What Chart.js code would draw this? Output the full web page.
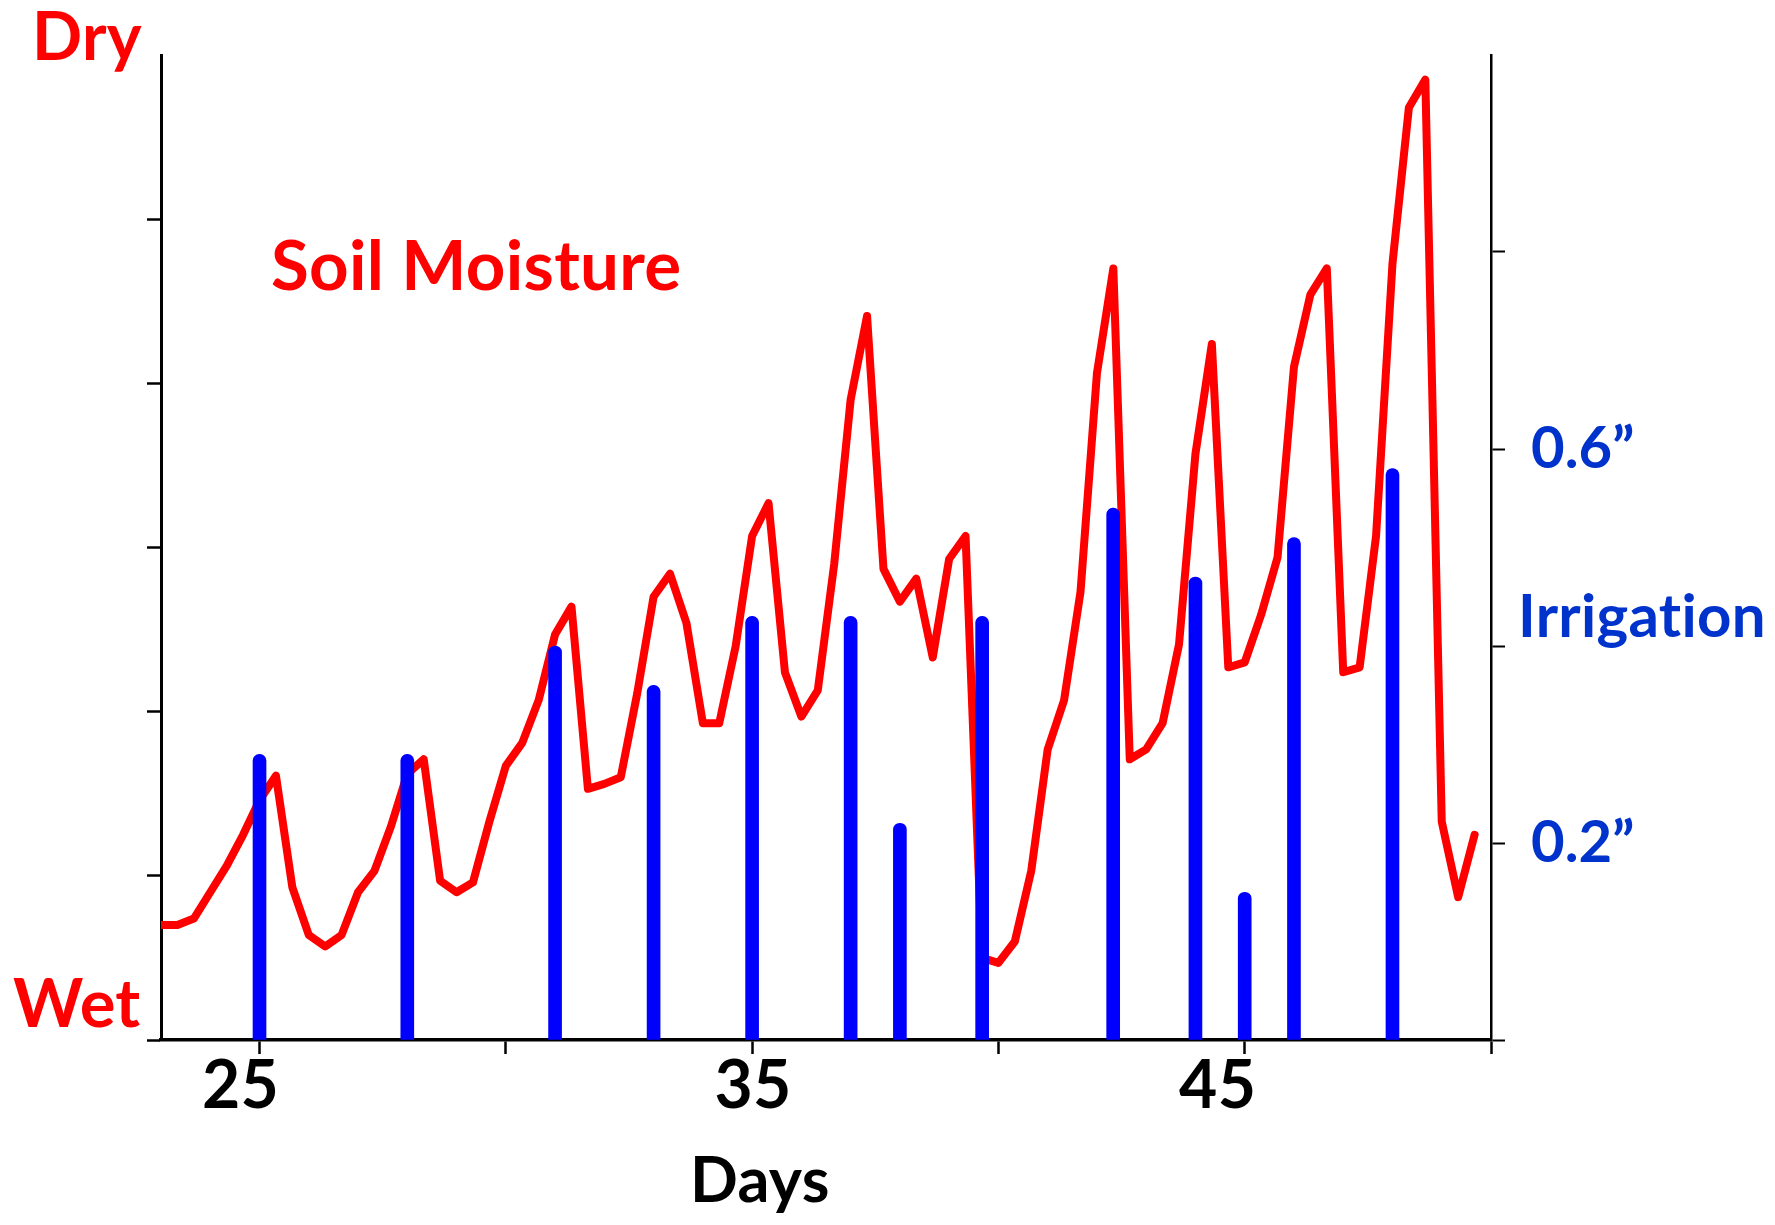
<!DOCTYPE html>
<html>
<head>
<meta charset="utf-8">
<title>Soil Moisture and Irrigation</title>
<script src="https://cdn.jsdelivr.net/npm/chart.js@4.4.0/dist/chart.umd.min.js"></script>
<style>
  html, body { margin: 0; padding: 0; background: #fff; }
  #wrap { width: 1775px; height: 1225px; }
</style>
</head>
<body>
<div id="wrap"><canvas id="soilChart" width="1775" height="1225"></canvas></div>
<script>
// soil moisture readings, one every 8 hours starting on day 23 (left axis, 0 = wet)
const startDay = 23;
const stepDays = 1 / 3;
const moisture = [
  0.70, 0.70, 0.74, 0.90, 1.06, 1.25, 1.46, 1.61, 0.93, 0.64,
  0.57, 0.64, 0.90, 1.03, 1.30, 1.62, 1.71, 0.97, 0.90, 0.96,
  1.33, 1.67, 1.81, 2.07, 2.47, 2.64, 1.53, 1.56, 1.60, 2.11,
  2.70, 2.84, 2.54, 1.93, 1.93, 2.40, 3.07, 3.27, 2.24, 1.97,
  2.13, 2.90, 3.90, 4.41, 2.87, 2.67, 2.81, 2.33, 2.93, 3.07,
  0.50, 0.47, 0.60, 1.03, 1.77, 2.07, 2.73, 4.06, 4.70, 1.71,
  1.77, 1.93, 2.41, 3.57, 4.24, 2.27, 2.30, 2.59, 2.94, 4.10,
  4.54, 4.70, 2.24, 2.27, 3.07, 4.73, 5.68, 5.85, 1.33, 0.87,
  1.25
];

// irrigation events (right axis, inches)
const irrigationDays   = [25, 28, 31, 33, 35, 37, 38, 39.67, 42.33, 44, 45, 46, 48];
const irrigationInches = [0.29, 0.29, 0.40, 0.36, 0.43, 0.43, 0.22, 0.43, 0.54, 0.47, 0.15, 0.51, 0.58];

// axis ticks and labels
const dayTicks = [25, 30, 35, 40, 45, 50];
const dayLabels = ['25', '', '35', '', '45', ''];
const moistureTicks = [0, 1, 2, 3, 4, 5, 6];
const irrigationTicks = [0, 0.2, 0.4, 0.6, 0.8, 1.0];
const irrigationLabels = ['', '0.2\u201D', '', '0.6\u201D', '', ''];

const RED = '#FF0000';
const BLUE = '#0000FF';
const BLUE_TEXT = '#0033CC';
const FONT = 'Lato';

// the day labels sit a little left of their ticks in the original
const dayLabelNudge = [-19, 0, 1, 0, -27, 0];

const notes = [
  { text: 'Dry', x: 32, y: 60, size: 66, color: RED },
  { text: 'Wet', x: 13, y: 1027, size: 67, color: RED },
  { text: 'Soil Moisture', x: 271, y: 290, size: 69, color: RED },
  { text: 'Days', x: 690, y: 1202, size: 63, color: '#000' },
  { text: 'Irrigation', x: 1518, y: 637, size: 60, color: BLUE_TEXT }
];

const freeText = {
  id: 'freeText',
  afterDraw(chart) {
    const c = chart.ctx;
    c.save();
    c.textBaseline = 'alphabetic';
    if ('textRendering' in c) c.textRendering = 'optimizeSpeed';
    if ('letterSpacing' in c) c.letterSpacing = '0.3px';

    c.textAlign = 'left';
    notes.forEach(n => {
      c.font = `bold ${n.size}px ${FONT}`;
      c.fillStyle = n.color;
      c.fillText(n.text, n.x, n.y);
    });

    const xs = chart.scales.x;
    c.textAlign = 'center';
    c.font = `bold 66px ${FONT}`;
    c.fillStyle = '#000';
    dayTicks.forEach((d, i) => {
      if (!dayLabels[i]) return;
      c.fillText(dayLabels[i], xs.getPixelForValue(d) + dayLabelNudge[i], xs.top + 68);
    });
    c.restore();
  }
};

const noPad = s => { s.paddingTop = 0; s.paddingBottom = 0; s.paddingLeft = 0; s.paddingRight = 0; };

const moisturePoints = moisture.map((v, i) => ({ x: startDay + i * stepDays, y: v }));
const irrigationPoints = irrigationDays.map((d, i) => ({ x: d, y: irrigationInches[i] }));

const config = {
  type: 'line',
  data: {
    datasets: [
      {
        type: 'bar',
        label: 'Irrigation',
        data: irrigationPoints,
        yAxisID: 'y2',
        backgroundColor: BLUE,
        borderWidth: 0,
        barThickness: 13,
        borderRadius: { topLeft: 6.5, topRight: 6.5, bottomLeft: 0, bottomRight: 0 },
        borderSkipped: 'start',
        order: 0
      },
      {
        type: 'line',
        label: 'Soil Moisture',
        data: moisturePoints,
        yAxisID: 'y',
        borderColor: RED,
        borderWidth: 8,
        borderJoinStyle: 'round',
        borderCapStyle: 'round',
        pointRadius: 0,
        tension: 0,
        fill: false,
        order: 1
      }
    ]
  },
  options: {
    responsive: false,
    devicePixelRatio: 1,
    animation: false,
    layout: { padding: { top: 55, left: 0, right: 0, bottom: 0 } },
    plugins: {
      legend: { display: false },
      tooltip: { enabled: false }
    },
    scales: {
      x: {
        type: 'linear',
        min: 23,
        max: 50,
        offset: false,
        z: 1,
        afterBuildTicks: s => { s.ticks = dayTicks.map(v => ({ value: v })); },
        afterFit: s => { s.height = 185; noPad(s); },
        border: { color: '#000', width: 3.5 },
        grid: {
          drawOnChartArea: false,
          drawTicks: true,
          offset: false,
          tickLength: 14,
          tickWidth: 2.5,
          tickColor: '#000'
        },
        ticks: { maxRotation: 0, autoSkip: false, callback: () => '' }
      },
      y: {
        position: 'left',
        min: 0,
        max: 6,
        afterBuildTicks: s => { s.ticks = moistureTicks.map(v => ({ value: v })); },
        afterFit: s => { s.width = 161; noPad(s); },
        border: { color: '#000', width: 3 },
        grid: {
          drawOnChartArea: false,
          tickLength: 14,
          tickWidth: 2.5,
          tickColor: c => (c.tick && c.tick.value === 6) ? 'rgba(0,0,0,0)' : '#000'
        },
        ticks: { callback: () => '' }
      },
      y2: {
        position: 'right',
        min: 0,
        max: 1,
        afterBuildTicks: s => { s.ticks = irrigationTicks.map(v => ({ value: v })); },
        afterFit: s => { s.width = 284; noPad(s); },
        border: { color: '#000', width: 2.5 },
        grid: {
          drawOnChartArea: false,
          tickLength: 14,
          tickWidth: 2,
          tickColor: c => (c.tick && c.tick.value === 1) ? 'rgba(0,0,0,0)' : '#000'
        },
        ticks: {
          padding: 26,
          color: BLUE_TEXT,
          font: { family: FONT, weight: 'bold', size: 58 },
          callback: (v, i) => irrigationLabels[i]
        }
      }
    }
  },
  plugins: [freeText]
};

new Chart(document.getElementById('soilChart'), config);
</script>
</body>
</html>
